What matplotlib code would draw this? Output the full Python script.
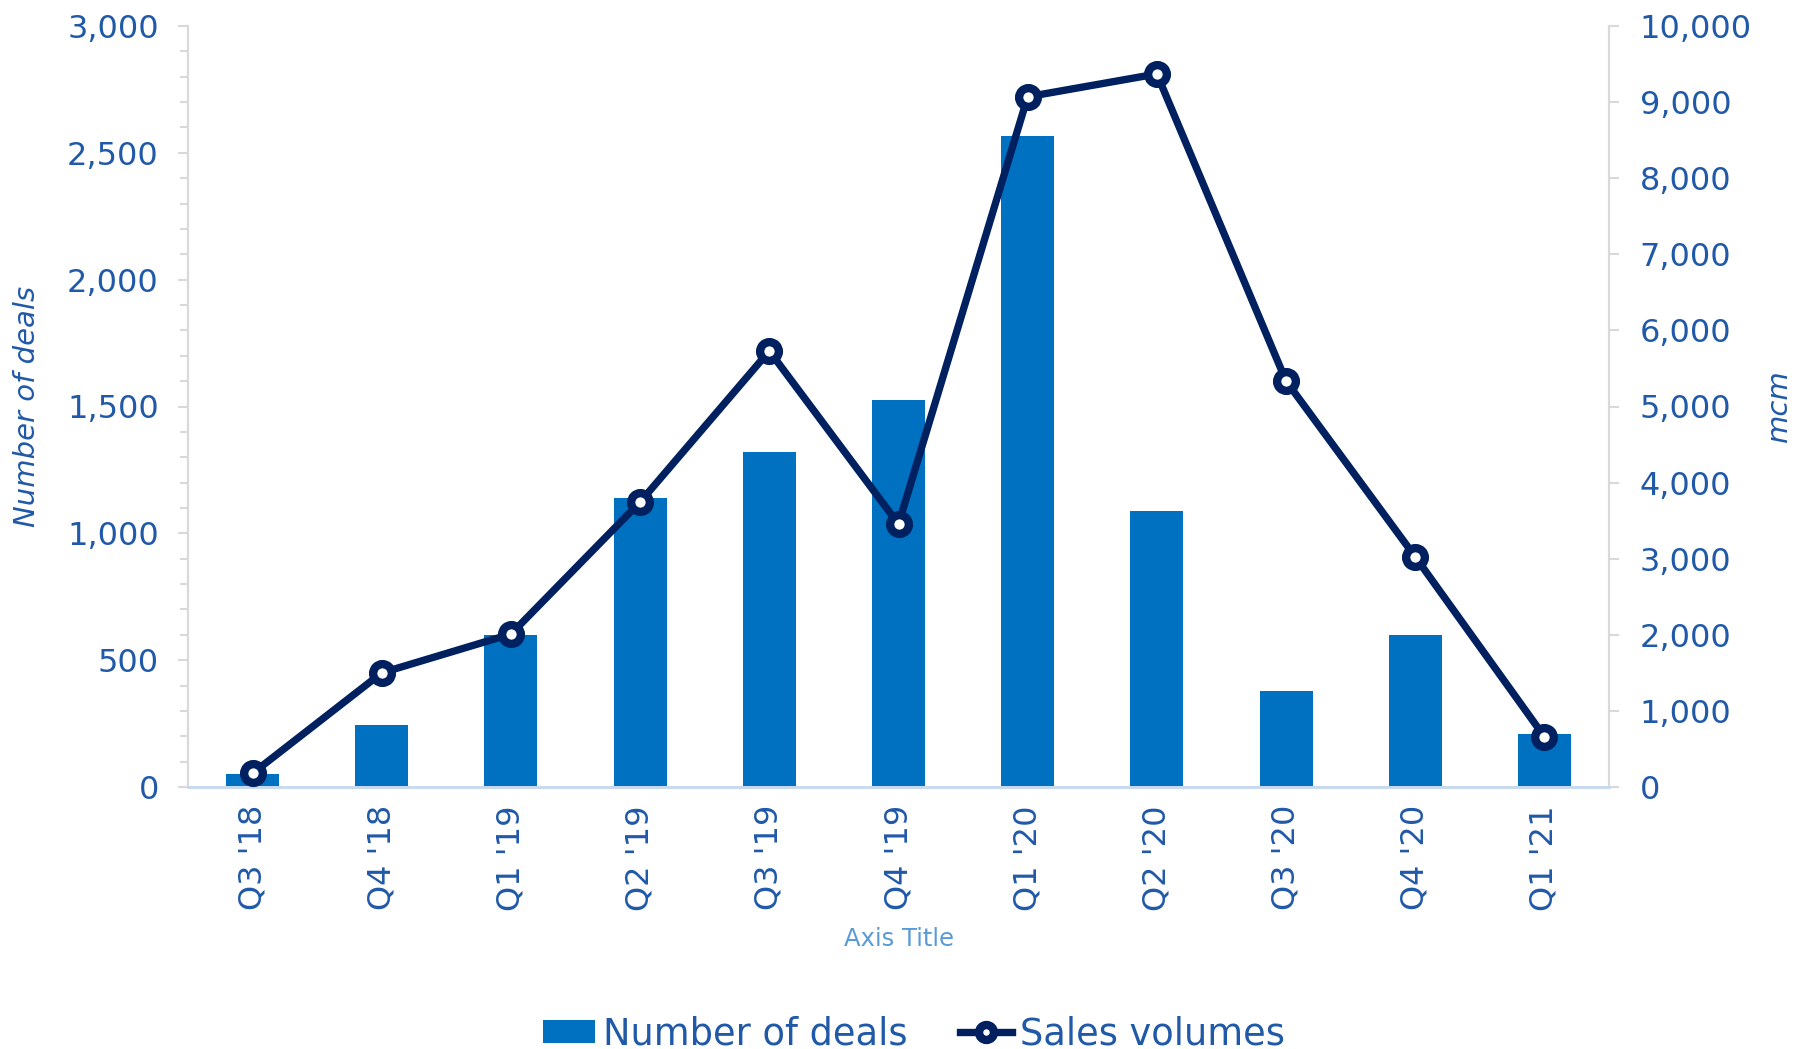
import matplotlib
matplotlib.use("Agg")
import matplotlib.pyplot as plt
from matplotlib.ticker import MultipleLocator, FuncFormatter

quarters = ["Q3 '18", "Q4 '18", "Q1 '19", "Q2 '19", "Q3 '19", "Q4 '19",
            "Q1 '20", "Q2 '20", "Q3 '20", "Q4 '20", "Q1 '21"]
deals = [50, 245, 600, 1140, 1320, 1525, 2565, 1090, 380, 600, 210]
sales_volumes = [180, 1500, 2010, 3745, 5730, 3455, 9070, 9370, 5335, 3025, 660]

BAR_COLOR = "#0070C0"
LINE_COLOR = "#002060"
TEXT_COLOR = "#2059A8"
GRID_GRAY = "#D9D9D9"

plt.rcParams['font.family'] = ['DejaVu Sans']

fig = plt.figure(figsize=(17.94, 10.49), dpi=100)
ax = fig.add_axes([188 / 1794, 262 / 1049, 1421 / 1794, 761 / 1049])
ax2 = ax.twinx()

x = range(len(quarters))
bars = ax.bar(x, deals, width=0.41, color=BAR_COLOR, zorder=2, label="Number of deals")
line, = ax2.plot(x, sales_volumes, color=LINE_COLOR, linewidth=5.3, marker="o",
                 markersize=13.5, markeredgewidth=6, markerfacecolor="white",
                 markeredgecolor=LINE_COLOR, zorder=3, label="Sales volumes")

ax.set_xlim(-0.5, len(quarters) - 0.5)
ax.set_ylim(0, 3000)
ax2.set_ylim(0, 10000)

fmt = FuncFormatter(lambda v, p: f"{int(v):,}")
ax.yaxis.set_major_locator(MultipleLocator(500))
ax.yaxis.set_minor_locator(MultipleLocator(100))
ax.yaxis.set_major_formatter(fmt)
ax2.yaxis.set_major_locator(MultipleLocator(1000))
ax2.yaxis.set_major_formatter(fmt)

ax.set_xticks(list(x))
ax.set_xticklabels(quarters, rotation=90)
ax.tick_params(axis="x", length=0, pad=13, labelsize=23, labelcolor=TEXT_COLOR)
ax.tick_params(axis="y", which="major", length=7, width=1.5, color=GRID_GRAY,
               pad=14, labelsize=23, labelcolor=TEXT_COLOR)
ax.tick_params(axis="y", which="minor", length=6, width=1.5, color=GRID_GRAY)
ax2.tick_params(axis="y", which="major", length=7, width=1.5, color=GRID_GRAY,
                pad=15, labelsize=23, labelcolor=TEXT_COLOR)

for a in (ax, ax2):
    a.spines["top"].set_visible(False)
    a.spines["left"].set_color(GRID_GRAY)
    a.spines["right"].set_color(GRID_GRAY)
    a.spines["left"].set_linewidth(1.5)
    a.spines["right"].set_linewidth(1.5)
    a.spines["bottom"].set_color("#C9DAF0")
    a.spines["bottom"].set_linewidth(2)

ax.set_xlabel("Axis Title", fontsize=17.5, color="#5B9BD5", labelpad=12)

fig.text(27 / 1794, 1 - 406 / 1049, "Number of deals", rotation=90, style="italic",
         fontsize=21, color=TEXT_COLOR, ha="center", va="center")
fig.text(1779 / 1794, 1 - 406 / 1049, "mcm", rotation=90, style="italic",
         fontsize=21, color=TEXT_COLOR, ha="center", va="center")

leg = fig.legend([bars, line], ["Number of deals", "Sales volumes"],
                 loc="center", bbox_to_anchor=(914 / 1794, 1 - 1034 / 1049),
                 ncol=2, frameon=False, fontsize=26.5, handlelength=1.41,
                 handleheight=0.57, handletextpad=0.22, columnspacing=1.44,
                 markerscale=0.8, borderpad=0)
for t in leg.get_texts():
    t.set_color(TEXT_COLOR)

fig.savefig("out.png", dpi=100, facecolor="white")
